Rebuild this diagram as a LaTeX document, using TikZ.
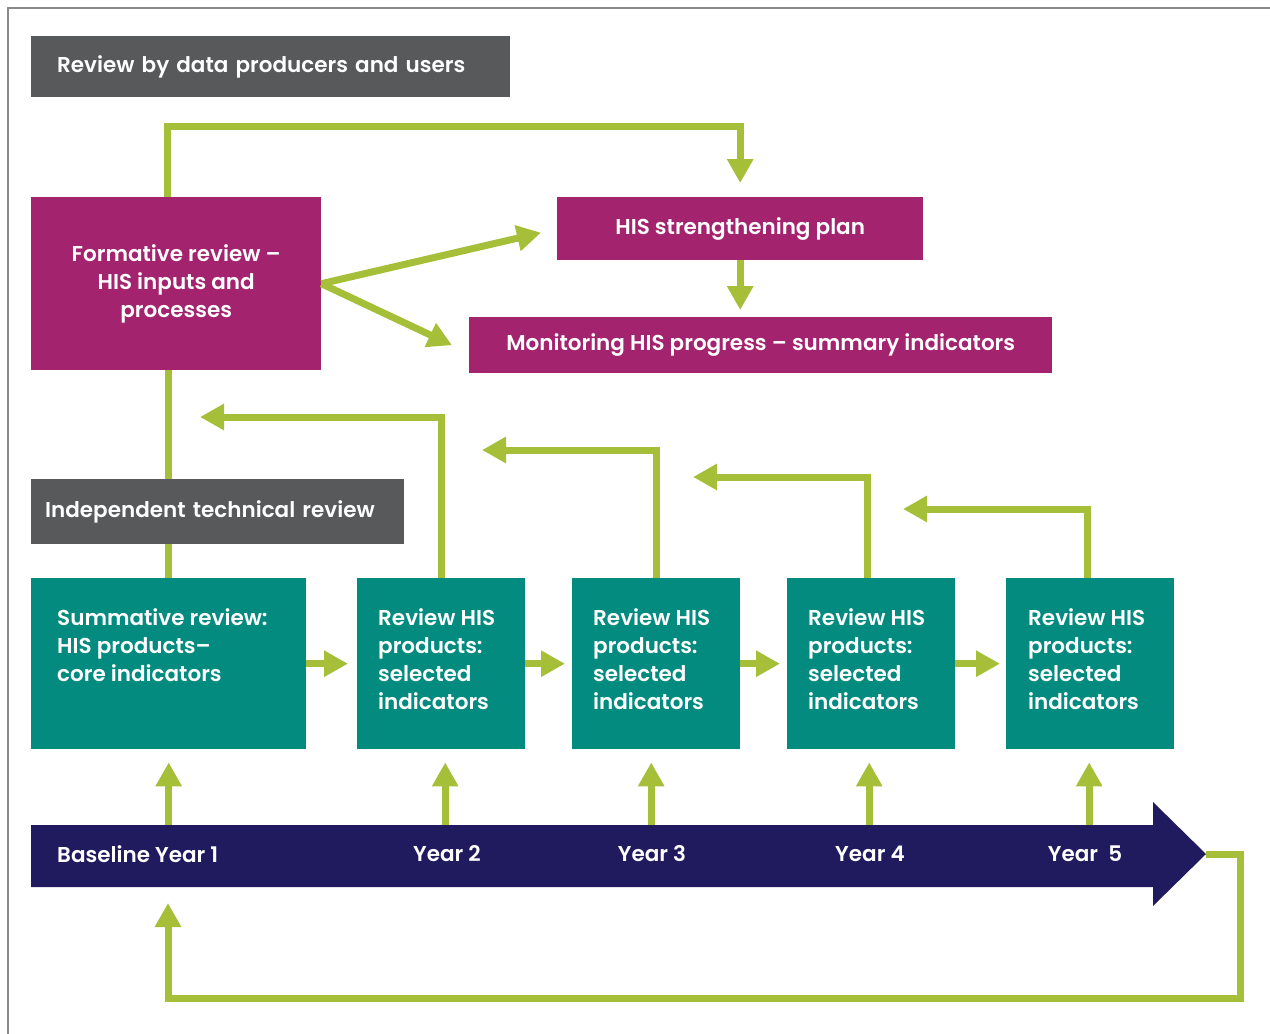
\documentclass[tikz,border=0pt]{standalone}
\usepackage{fontspec}
\setmainfont{Poppins}[UprightFont=* SemiBold]
\usetikzlibrary{arrows.meta,calc}

\definecolor{framegray}{HTML}{8A8A8A}
\definecolor{darkgray}{HTML}{58595B}
\definecolor{hismagenta}{HTML}{A3236F}
\definecolor{histeal}{HTML}{038B7F}
\definecolor{hisnavy}{HTML}{1F1B5E}
\definecolor{hisgreen}{HTML}{A6BF38}

\begin{document}
\begin{tikzpicture}[x=1pt,y=-1pt,
  txt/.style={text=white,font=\fontsize{21.5}{28}\selectfont},
  greybox/.style={txt,fill=darkgray,inner ysep=0pt,anchor=north west,align=left},
  magbox/.style={txt,fill=hismagenta,inner sep=0pt,anchor=north west,align=center},
  tealbox/.style={fill=histeal,inner sep=0pt,anchor=north west,minimum width=168pt,minimum height=171pt},
  tealtext/.style={txt,inner sep=0pt,anchor=north west,align=left},
  conn/.style={draw=hisgreen,line width=7pt},
  arr/.style={conn,-{Triangle[length=24pt,width=25pt]}},
  yearlabel/.style={txt,inner sep=0pt}
]
\useasboundingbox (0,0) rectangle (1270,1034);

% outer frame
\draw[framegray,line width=1.5pt] (8,1034) -- (8,8) -- (1270,8);

% header boxes
\node[greybox,inner xsep=26pt,text width=427pt,minimum height=61pt] (rev) at (31,36)
  {Review by data producers and users};

\node[magbox,minimum width=290pt,minimum height=173pt] (form) at (31,197)
  {Formative review –\\HIS inputs and\\processes};
\node[magbox,minimum width=366pt,minimum height=63pt] (plan) at (557,197)
  {HIS strengthening plan};
\node[magbox,minimum width=583pt,minimum height=56pt] (mon) at (469,317)
  {Monitoring HIS progress – summary indicators};

% yearly review boxes
\node[tealbox,minimum width=275pt] (b1) at (31,578) {};
\node[tealbox] (b2) at (357,578) {};
\node[tealbox] (b3) at (572,578) {};
\node[tealbox] (b4) at (787,578) {};
\node[tealbox] (b5) at (1006,578) {};

% vertical link from the formative review down to the summative review
\draw[conn] (b1.north) -- (b1.north |- form.south);

\node[greybox,inner xsep=14pt,text width=345pt,minimum height=65pt] (itr) at (31,479)
  {Independent technical review};

\node[tealtext] (t1) at (57,608) {Summative review:\\HIS products–\\core indicators};
\node[tealtext] (t2) at (378,608) {Review HIS\\products:\\selected\\indicators};
\node[tealtext] (t3) at (593,608) {Review HIS\\products:\\selected\\indicators};
\node[tealtext] (t4) at (808,608) {Review HIS\\products:\\selected\\indicators};
\node[tealtext] (t5) at (1028,608) {Review HIS\\products:\\selected\\indicators};

% timeline arrow
\coordinate (tltip) at (1206,854);
\coordinate (tltop) at (0,825);
\fill[hisnavy] (31,825) -- (1153,825) -- (1153,802) -- (tltip) -- (1153,906)
  -- (1153,887) -- (31,887) -- cycle;
\node[yearlabel,anchor=west] (y1) at (57,854) {Baseline Year 1};
\node[yearlabel] (y2) at (447,854) {Year 2};
\node[yearlabel] (y3) at (652,854) {Year 3};
\node[yearlabel] (y4) at (870,854) {Year 4};
\node[yearlabel] (y5) at (1085,854) {Year\ \ 5};

% connectors among the header boxes
\coordinate (toprail) at (0,126);
\draw[arr] ([xshift=-9pt]form.north) |- (toprail -| plan.north) -- ([yshift=14pt]plan.north);
\draw[arr] (form.east) -- ([xshift=-16pt,yshift=-4pt]plan.west);
\draw[arr] (form.east) -- ([xshift=-17pt]mon.west);
\draw[arr] (plan.south) -- ([yshift=7pt]plan.south |- mon.north);

% progression between yearly reviews
\draw[arr] (b1.east) -- ([xshift=-9pt]b2.west);
\draw[arr] (b2.east) -- ([xshift=-7pt]b3.west);
\draw[arr] (b3.east) -- ([xshift=-7pt]b4.west);
\draw[arr] (b4.east) -- ([xshift=-6pt]b5.west);

% feedback from each yearly review
\coordinate (r2) at (200,417);
\coordinate (r3) at (482,450);
\coordinate (r4) at (693,477);
\coordinate (r5) at (903,509);
\draw[arr] (b2.north) |- (r2);
\draw[arr] (b3.north) |- (r3);
\draw[arr] ([xshift=-4pt]b4.north) |- (r4);
\draw[arr] ([xshift=-3pt]b5.north) |- (r5);

% years feeding the reviews
\draw[arr] (b1.south |- tltop) -- ([yshift=-13pt]b1.south);
\draw[arr] ([xshift=4pt]b2.south |- tltop) -- ([xshift=4pt,yshift=-13pt]b2.south);
\draw[arr] ([xshift=-5pt]b3.south |- tltop) -- ([xshift=-5pt,yshift=-13pt]b3.south);
\draw[arr] ([xshift=-2pt]b4.south |- tltop) -- ([xshift=-2pt,yshift=-13pt]b4.south);
\draw[arr] ([xshift=-1pt]b5.south |- tltop) -- ([xshift=-1pt,yshift=-13pt]b5.south);

% loop back to the baseline
\coordinate (loopcorner) at (1240,998);
\coordinate (looptip) at (168,903);
\draw[arr] (tltip) -| (loopcorner) -| (looptip);
\end{tikzpicture}
\end{document}
